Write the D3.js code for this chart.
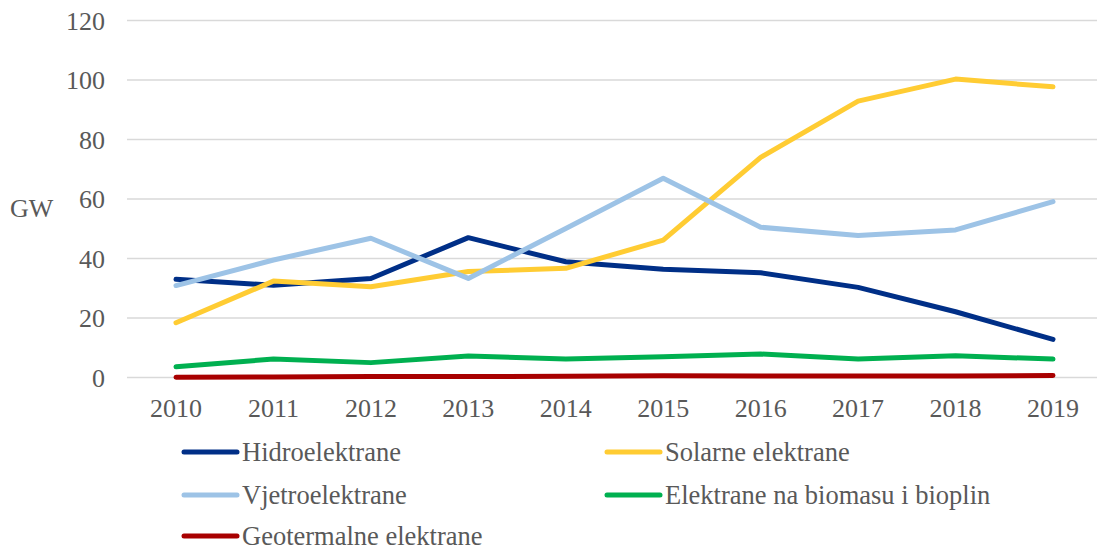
<!DOCTYPE html>
<html>
<head>
<meta charset="utf-8">
<script src="https://cdn.jsdelivr.net/npm/d3@7"></script>
<style>
  body { margin: 0; background: #fff; }
  text { font-family: "Liberation Serif", "Times New Roman", serif; fill: #595959; }
</style>
</head>
<body>
<div id="chart"></div>
<script>
// 数据
const years = ["2010", "2011", "2012", "2013", "2014", "2015", "2016", "2017", "2018", "2019"];
const hidro = [33.0, 31.0, 33.3, 47.0, 38.9, 36.4, 35.2, 30.3, 22.1, 12.8];
const solar = [18.4, 32.4, 30.5, 35.6, 36.7, 46.2, 74.0, 92.9, 100.3, 97.7];
const vjetro = [30.9, 39.5, 46.8, 33.3, 50.1, 67.0, 50.5, 47.7, 49.6, 59.1];
const biomasa = [3.6, 6.2, 5.0, 7.2, 6.2, 7.0, 7.9, 6.2, 7.3, 6.2];
const geo = [0.1, 0.2, 0.3, 0.3, 0.4, 0.6, 0.5, 0.5, 0.5, 0.7];
const yTicks = [0, 20, 40, 60, 80, 100, 120];

const series = [
    { name: "Hidroelektrane", values: hidro, color: "#002F87" },
    { name: "Solarne elektrane", values: solar, color: "#FFCC33" },
    { name: "Vjetroelektrane", values: vjetro, color: "#9DC3E6" },
    { name: "Elektrane na biomasu i bioplin", values: biomasa, color: "#00B050" },
    { name: "Geotermalne elektrane", values: geo, color: "#A80000" }
];

const width = 1097, height = 550;

const svg = d3.select("#chart")
    .append("svg")
    .attr("width", width)
    .attr("height", height);

// 比例尺
const x = d3.scalePoint()
    .domain(years)
    .range([176, 1053]);

const y = d3.scaleLinear()
    .domain([0, 120])
    .range([377.5, 20.5]);

// 网格线
svg.append("g")
    .selectAll("line")
    .data(yTicks)
    .enter()
    .append("line")
    .attr("x1", 127)
    .attr("x2", 1097)
    .attr("y1", d => y(d))
    .attr("y2", d => y(d))
    .attr("stroke", "#d9d9d9")
    .attr("stroke-width", 1.5);

// y轴标签
svg.append("g")
    .selectAll("text")
    .data(yTicks)
    .enter()
    .append("text")
    .attr("x", 105)
    .attr("y", d => y(d))
    .attr("dy", "0.35em")
    .attr("text-anchor", "end")
    .attr("font-size", "26px")
    .text(d => d);

// x轴标签
svg.append("g")
    .selectAll("text")
    .data(years)
    .enter()
    .append("text")
    .attr("x", d => x(d))
    .attr("y", 417)
    .attr("text-anchor", "middle")
    .attr("font-size", "26px")
    .text(d => d);

// 单位
svg.append("text")
    .attr("x", 10)
    .attr("y", 217)
    .attr("font-size", "26px")
    .text("GW");

// 折线
const line = d3.line()
    .x((d, i) => x(years[i]))
    .y(d => y(d));

series.forEach(s => {
    svg.append("path")
        .datum(s.values)
        .attr("d", line)
        .attr("fill", "none")
        .attr("stroke", s.color)
        .attr("stroke-width", 5)
        .attr("stroke-linecap", "round")
        .attr("stroke-linejoin", "round");
});

// 图例
const legendPos = [
    { x: 182, y: 452 },
    { x: 605, y: 452 },
    { x: 182, y: 495 },
    { x: 605, y: 495 },
    { x: 182, y: 536 }
];

series.forEach((s, i) => {
    const p = legendPos[i];
    const g = svg.append("g").attr("transform", `translate(${p.x}, ${p.y})`);
    g.append("line")
        .attr("x1", 2).attr("x2", 55)
        .attr("y1", 0).attr("y2", 0)
        .attr("stroke", s.color)
        .attr("stroke-width", 5)
        .attr("stroke-linecap", "round");
    g.append("text")
        .attr("x", 60)
        .attr("y", 0)
        .attr("dy", "0.35em")
        .attr("font-size", "26.5px")
        .text(s.name);
});
</script>
</body>
</html>
